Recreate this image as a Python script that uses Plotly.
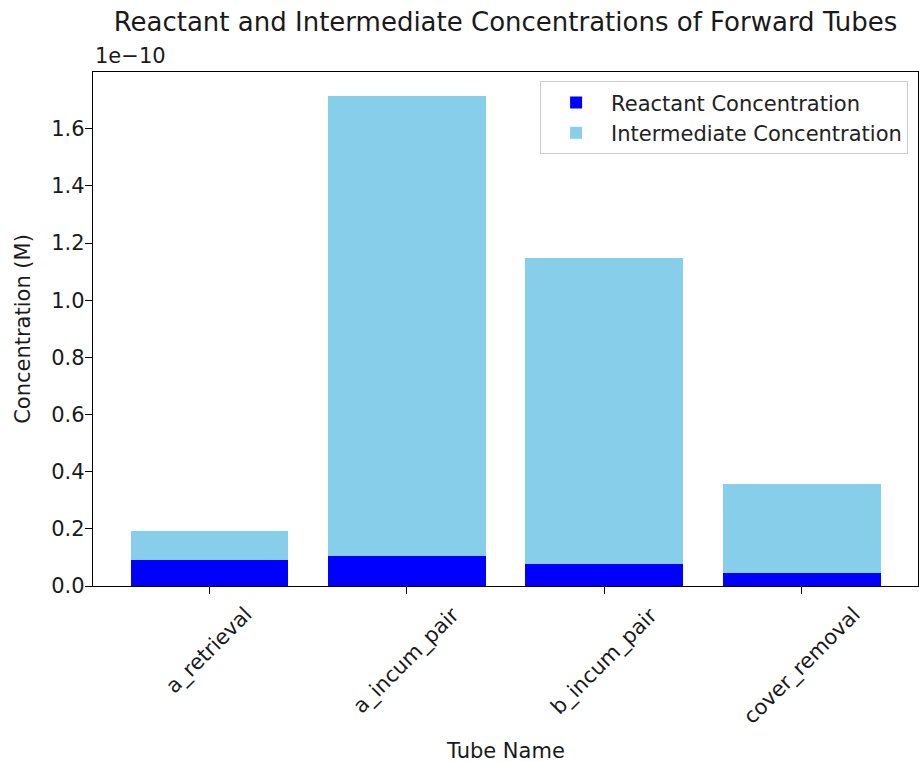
import plotly.graph_objects as go

# Tube names and concentrations (molar)
tubes = ["a_retrieval", "a_incum_pair", "b_incum_pair", "cover_removal"]
reactant_conc = [0.092e-10, 0.104e-10, 0.076e-10, 0.046e-10]
intermediate_conc = [0.100e-10, 1.609e-10, 1.073e-10, 0.312e-10]

scale = 1e-10
scale_label = "1e\u221210"
y_ticks = [0.0, 0.2, 0.4, 0.6, 0.8, 1.0, 1.2, 1.4, 1.6]

font_family = "DejaVu Sans, Verdana, sans-serif"
label_size = 21
title_size = 26
text_color = "#1a1a1a"

reactant_scaled = [v / scale for v in reactant_conc]
intermediate_scaled = [v / scale for v in intermediate_conc]
totals = [a + b for a, b in zip(reactant_scaled, intermediate_scaled)]

fig = go.Figure()
fig.add_trace(go.Bar(
    x=tubes, y=reactant_scaled, name="Reactant Concentration",
    marker=dict(color="#0000ff", line=dict(width=0)), width=0.8,
))
fig.add_trace(go.Bar(
    x=tubes, y=intermediate_scaled, name="Intermediate Concentration",
    marker=dict(color="#87ceeb", line=dict(width=0)), width=0.8,
))

annotations = []
# rotated category labels centred under each tick
for t in tubes:
    annotations.append(dict(
        x=t, xref="x", y=0, yref="paper", yshift=-14,
        text=t, textangle=-45, showarrow=False,
        xanchor="center", yanchor="top",
        font=dict(family=font_family, size=label_size, color=text_color),
    ))
# axis scale factor
annotations.append(dict(
    x=0, xref="paper", y=1, yref="paper", yshift=2,
    text=scale_label, showarrow=False, xanchor="left", yanchor="bottom",
    font=dict(family=font_family, size=label_size, color=text_color),
))
# x axis title
annotations.append(dict(
    x=0.5, xref="paper", y=0, yref="paper", yshift=-165,
    text="Tube Name", showarrow=False, xanchor="center", yanchor="middle",
    font=dict(family=font_family, size=label_size, color=text_color),
))

fig.update_layout(
    width=919, height=762,
    margin=dict(l=93, r=1, t=72, b=176),
    paper_bgcolor="white", plot_bgcolor="white",
    barmode="stack",
    font=dict(family=font_family, size=label_size, color=text_color),
    title=dict(
        text="Reactant and Intermediate Concentrations of Forward Tubes",
        x=0.5, xref="paper", xanchor="center",
        y=1 - 22 / 762, yref="container", yanchor="middle",
        font=dict(family=font_family, size=title_size, color=text_color),
    ),
    legend=dict(
        x=0.988, y=0.982, xanchor="right", yanchor="top",
        bordercolor="#cccccc", borderwidth=1, bgcolor="rgba(255,255,255,0.8)",
        font=dict(family=font_family, size=label_size, color="#222222"),
        traceorder="normal", itemwidth=60,
    ),
    annotations=annotations,
    showlegend=True,
)

fig.update_xaxes(
    range=[-0.59, len(tubes) - 1 + 0.59],
    showticklabels=False,
    ticks="outside", ticklen=7, tickwidth=1.3, tickcolor="black",
    showline=True, linecolor="black", linewidth=1.3, mirror=True,
    showgrid=False, zeroline=False,
)
fig.update_yaxes(
    range=[0, max(totals) * 1.05],
    tickvals=y_ticks, tickformat=".1f",
    ticks="outside", ticklen=7, tickwidth=1.3, tickcolor="black",
    showline=True, linecolor="black", linewidth=1.3, mirror=True,
    showgrid=False, zeroline=False,
    ticklabelstandoff=-4,
    title=dict(text="Concentration (M)", standoff=14,
               font=dict(family=font_family, size=label_size, color=text_color)),
    tickfont=dict(family=font_family, size=label_size, color=text_color),
)

fig.write_html("out.html")
